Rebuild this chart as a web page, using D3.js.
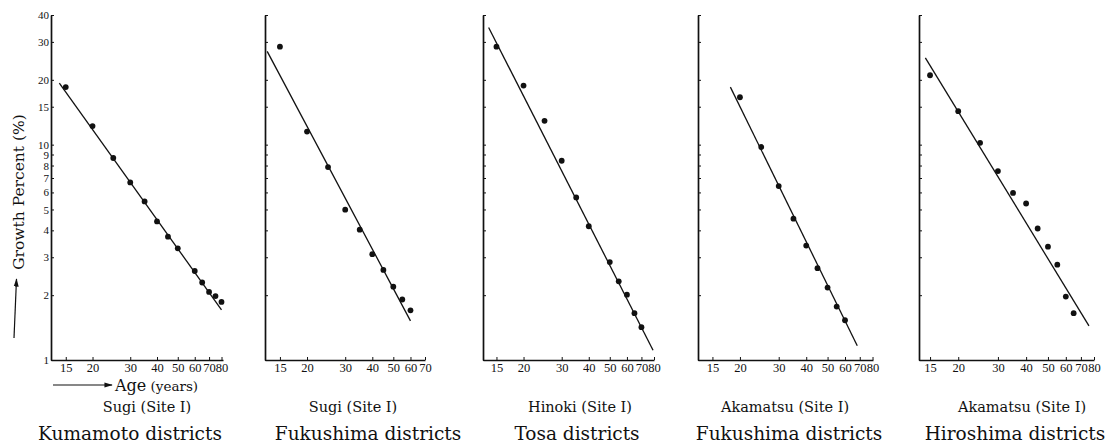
<!DOCTYPE html>
<html>
<head>
<meta charset="utf-8">
<script src="https://cdnjs.cloudflare.com/ajax/libs/d3/7.8.5/d3.min.js"></script>
<style>
  body { margin: 0; background: #fff; }
  svg { display: block; }
  .axis path, .axis line { stroke: #111; }
  .axis path { stroke-width: 1.7; }
  .axis .tick text { font-family: "Liberation Serif", serif; font-size: 12.5px; fill: #111; }
  .yaxis .tick text { font-size: 11px; }
  .caption { font-family: "DejaVu Serif", serif; fill: #111; }
</style>
</head>
<body>
<script>
// Tick values (shared log scales)
const yTicks = [1, 2, 3, 4, 5, 6, 7, 8, 9, 10, 15, 20, 30, 40];
const xTicks = [15, 20, 30, 40, 50, 60, 70, 80];
const xTicksTo70 = [15, 20, 30, 40, 50, 60, 70];

// Kumamoto - Sugi
const kumamotoAge = [15, 20, 25, 30, 35, 40, 45, 50, 60, 65, 70, 75, 80];
const kumamotoGrowth = [18.5, 12.2, 8.67, 6.68, 5.45, 4.40, 3.74, 3.30, 2.59, 2.29, 2.07, 1.98, 1.86];
const kumamotoFit = [[14.0, 19.3], [80, 1.71]];

// Fukushima - Sugi
const fukuSugiAge = [15, 20, 25, 30, 35, 40, 45, 50, 55, 60];
const fukuSugiGrowth = [28.5, 11.5, 7.87, 4.99, 4.03, 3.10, 2.62, 2.19, 1.91, 1.70];
const fukuSugiFit = [[13.1, 27.1], [60, 1.52]];

// Tosa - Hinoki
const tosaAge = [15, 20, 25, 30, 35, 40, 50, 55, 60, 65, 70];
const tosaGrowth = [28.5, 18.8, 12.9, 8.42, 5.69, 4.18, 2.85, 2.32, 2.01, 1.65, 1.42];
const tosaFit = [[13.8, 35.0], [79.2, 1.11]];

// Fukushima - Akamatsu
const fukuAkaAge = [20, 25, 30, 35, 40, 45, 50, 55, 60];
const fukuAkaGrowth = [16.6, 9.75, 6.42, 4.53, 3.40, 2.67, 2.17, 1.77, 1.53];
const fukuAkaFit = [[18.1, 18.5], [68.2, 1.165]];

// Hiroshima - Akamatsu
const hiroAge = [15, 20, 25, 30, 35, 40, 45, 50, 55, 60, 65];
const hiroGrowth = [21.0, 14.3, 10.2, 7.54, 5.97, 5.33, 4.08, 3.36, 2.77, 1.97, 1.65];
const hiroFit = [[14.3, 25.3], [76, 1.44]];

var panels = [
  {age: kumamotoAge, growth: kumamotoGrowth, fit: kumamotoFit, ticks: xTicks,
   species: "Sugi (Site Ⅰ)", district: "Kumamoto districts",
   left: 51, right: 223, domain: [12.8, 81.3], speciesX: 147, districtX: 130},
  {age: fukuSugiAge, growth: fukuSugiGrowth, fit: fukuSugiFit, ticks: xTicksTo70,
   species: "Sugi (Site Ⅰ)", district: "Fukushima districts",
   left: 265, right: 425, domain: [12.8, 70], speciesX: 353, districtX: 368},
  {age: tosaAge, growth: tosaGrowth, fit: tosaFit, ticks: xTicks,
   species: "Hinoki (Site Ⅰ)", district: "Tosa districts",
   left: 483, right: 654, domain: [13.0, 80], speciesX: 580, districtX: 577},
  {age: fukuAkaAge, growth: fukuAkaGrowth, fit: fukuAkaFit, ticks: xTicks,
   species: "Akamatsu (Site Ⅰ)", district: "Fukushima districts",
   left: 698, right: 873, domain: [12.9, 80.4], speciesX: 785, districtX: 789},
  {age: hiroAge, growth: hiroGrowth, fit: hiroFit, ticks: xTicks,
   species: "Akamatsu (Site Ⅰ)", district: "Hiroshima districts",
   left: 919, right: 1094, domain: [13.4, 80], speciesX: 1022, districtX: 1015}
];

var width = 1114, height = 446;
var axisBottomY = 360, axisTopY = 15;

var svg = d3.select("body").append("svg")
    .attr("width", width)
    .attr("height", height);

// arrow head
svg.append("defs").append("marker")
    .attr("id", "arrow")
    .attr("viewBox", "0 0 10 10")
    .attr("refX", 9).attr("refY", 5)
    .attr("markerWidth", 7).attr("markerHeight", 7)
    .attr("orient", "auto")
  .append("path")
    .attr("d", "M0,2 L10,5 L0,8 Z")
    .attr("fill", "#111");

// common growth-percent scale
var y = d3.scaleLog().domain([1, 40]).range([axisBottomY, axisTopY]);

panels.forEach(function(p, i) {
  var x = d3.scaleLog().domain(p.domain).range([p.left, p.right]);
  var g = svg.append("g").attr("class", "panel");

  // X axis, ticks pointing in
  g.append("g")
      .attr("class", "axis")
      .attr("transform", `translate(0,${axisBottomY})`)
      .call(d3.axisBottom(x)
          .tickValues(p.ticks)
          .tickSize(-3)
          .tickSizeOuter(0)
          .tickPadding(3)
          .tickFormat(d3.format("d")));

  // Y axis, labels only on first panel
  g.append("g")
      .attr("class", "axis yaxis")
      .attr("transform", `translate(${p.left},0)`)
      .call(d3.axisLeft(y)
          .tickValues(yTicks)
          .tickSize(-3)
          .tickSizeOuter(0)
          .tickPadding(2)
          .tickFormat(i === 0 ? d3.format("d") : ""));

  // fitted line
  g.append("path")
      .datum(p.fit)
      .attr("fill", "none")
      .attr("stroke", "#111")
      .attr("stroke-width", 1.3)
      .attr("d", d3.line()
          .x(d => x(d[0]))
          .y(d => y(d[1])));

  // observed points
  g.selectAll(".dot")
      .data(p.age.map((a, k) => [a, p.growth[k]]))
    .enter().append("circle")
      .attr("class", "dot")
      .attr("cx", d => x(d[0]))
      .attr("cy", d => y(d[1]))
      .attr("r", 2.9)
      .attr("fill", "#111");

  // captions
  g.append("text")
      .attr("class", "caption")
      .attr("x", p.speciesX)
      .attr("y", 412)
      .attr("text-anchor", "middle")
      .style("font-size", "14.5px")
      .text(p.species);

  g.append("text")
      .attr("class", "caption")
      .attr("x", p.districtX)
      .attr("y", 440)
      .attr("text-anchor", "middle")
      .style("font-size", "18.5px")
      .text(p.district);
});

// Y axis title with arrow
svg.append("text")
    .attr("class", "caption")
    .attr("transform", "translate(24,192) rotate(-90)")
    .attr("text-anchor", "middle")
    .style("font-size", "15.5px")
    .text("Growth Percent (%)");

svg.append("line")
    .attr("x1", 14).attr("y1", 338)
    .attr("x2", 16.5).attr("y2", 279)
    .attr("stroke", "#111")
    .attr("stroke-width", 1.2)
    .attr("marker-end", "url(#arrow)");

// X axis title with arrow
svg.append("line")
    .attr("x1", 53).attr("y1", 385)
    .attr("x2", 112).attr("y2", 385)
    .attr("stroke", "#111")
    .attr("stroke-width", 1.2)
    .attr("marker-end", "url(#arrow)");

var ageLabel = svg.append("text")
    .attr("class", "caption")
    .attr("x", 115)
    .attr("y", 391);
ageLabel.append("tspan").style("font-size", "16px").text("Age");
ageLabel.append("tspan").style("font-size", "13.5px").text(" (years)");
</script>
</body>
</html>
